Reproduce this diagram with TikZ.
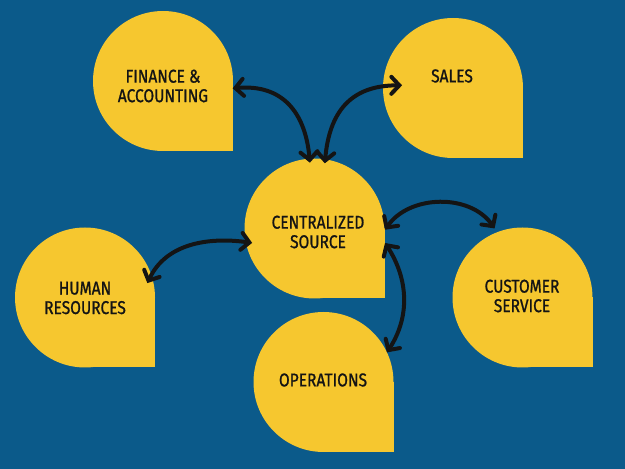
\documentclass[tikz,border=0pt]{standalone}
\usepackage{fontspec}
\setmainfont{Fira Sans}[FakeStretch=0.84,FakeBold=1]
\usetikzlibrary{arrows.meta}
\definecolor{bgblue}{HTML}{0B5A8A}
\definecolor{petal}{HTML}{F6C72F}
\definecolor{ink}{HTML}{141414}
\tikzset{
  petalc/.style={circle, fill=petal, minimum size=140pt, inner sep=0pt, outer sep=0pt},
  label/.style={align=center, text=ink, font=\fontsize{18.5}{19.5}\selectfont},
  link/.style={line width=4pt, draw=ink, line cap=round,
    {Straight Barb[length=8pt,width=17pt,line cap=round]}-{Straight Barb[length=8pt,width=17pt,line cap=round]}}
}
\newcommand{\petalshape}[3]{%
  \node[petalc] (#1) at (#2,#3) {};
  \fill[petal] (#2,#3) rectangle ++(70,-70);
}
\begin{document}
\begin{tikzpicture}[x=1pt,y=1pt]
\useasboundingbox (0,0) rectangle (625,469);
\fill[bgblue] (0,0) rectangle (625,469);
\petalshape{fin}{163}{388}
\petalshape{sal}{453}{381}
\petalshape{cen}{314.5}{240.5}
\petalshape{hr}{85}{171.5}
\petalshape{cus}{522.5}{171.5}
\petalshape{ops}{323.5}{87}
\node[label] (tfin) at (163,383) {FINANCE \&\\ACCOUNTING};
\node[label] (tsal) at (452,393) {SALES};
\node[label] (tcen) at (318,237) {CENTRALIZED\\SOURCE};
\node[label] (thr) at (85,171) {HUMAN\\RESOURCES};
\node[label] (tcus) at (522,173) {CUSTOMER\\SERVICE};
\node[label] (tops) at (323,89) {OPERATIONS};
% connector end points
\coordinate (finA) at ([shift={(-6:70)}]fin.center);
\coordinate (cenF) at ([shift={(94:66)}]cen.center);
\coordinate (cenS) at ([shift={(81:66)}]cen.center);
\coordinate (salA) at ([shift={(177:51)}]sal.center);
\coordinate (cenH) at ([shift={(193:64)}]cen.center);
\coordinate (hrA) at ([shift={(13:64)}]hr.center);
\coordinate (cenC) at ([shift={(-1:70.5)}]cen.center);
\coordinate (cusA) at ([shift={(112:74.5)}]cus.center);
\coordinate (cenO) at ([shift={(-11.6:72)}]cen.center);
\coordinate (opsA) at ([shift={(25:70)}]ops.center);
\draw[link] (finA) to[out=5,in=95,looseness=1.2] (cenF);
\draw[link] (cenS) to[out=85,in=180,looseness=1.2] (salA);
\draw[link] (hrA) to[out=65,in=172] (cenH);
\draw[link] (cenC) to[out=55,in=125] (cusA);
\draw[link] (cenO) to[out=-57,in=57] (opsA);
\end{tikzpicture}
\end{document}
